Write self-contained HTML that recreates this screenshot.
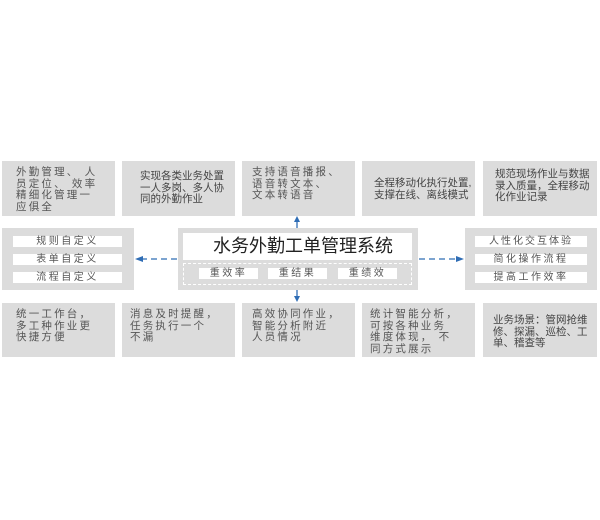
<html><head><style>
body{margin:0;background:#fff;width:600px;height:520px;position:relative;font-family:"Liberation Sans","Noto Sans CJK SC",sans-serif;overflow:hidden}
.b{position:absolute;background:#dcdcdc;color:#555;font-size:10.5px;line-height:11.5px;box-sizing:border-box;padding:6px 0 0 14px;white-space:nowrap}
.s{letter-spacing:2.2px}
.p{position:absolute;background:#fff;color:#555;font-size:10px;text-align:center;line-height:11px;letter-spacing:2.5px;white-space:nowrap}
</style></head><body>
<div class="b s" style="left:2px;top:161px;width:113px;height:55px">外勤管理、 人<br>员定位、 效率<br>精细化管理一<br>应俱全</div>
<div class="b" style="left:122px;top:161px;width:113px;height:55px;padding-left:18px;padding-top:10px;color:#444">实现各类业务处置<br>一人多岗、多人协<br>同的外勤作业</div>
<div class="b s" style="left:242px;top:161px;width:113px;height:55px;padding-left:10px">支持语音播报、<br>语音转文本、<br>文本转语音</div>
<div class="b" style="left:362px;top:161px;width:113px;height:55px;padding:17px 0 0 12px;color:#444">全程移动化执行处置,<br>支撑在线、离线模式</div>
<div class="b" style="left:483px;top:161px;width:114px;height:55px;padding:8px 0 0 12px;color:#444">规范现场作业与数据<br>录入质量，全程移动<br>化作业记录</div>

<div class="b" style="left:2px;top:228px;width:132px;height:62px;padding:0"></div>
<div class="p" style="left:13px;top:236px;width:109px;height:11px">规则自定义</div>
<div class="p" style="left:13px;top:254px;width:109px;height:11px">表单自定义</div>
<div class="p" style="left:13px;top:272px;width:109px;height:11px">流程自定义</div>

<div class="b" style="left:178px;top:228px;width:240px;height:62px;padding:0"></div>
<div style="position:absolute;left:183px;top:233px;width:229px;height:27px;background:#fff;font-size:18px;line-height:27px;padding-left:30px;box-sizing:border-box;color:#222;white-space:nowrap">水务外勤工单管理系统</div>
<div style="position:absolute;left:183px;top:263px;width:229px;height:22px;border:1px dashed #fff;box-sizing:border-box"></div>
<div class="p" style="left:199px;top:268px;width:59px;height:11px">重效率</div>
<div class="p" style="left:268px;top:268px;width:59px;height:11px">重结果</div>
<div class="p" style="left:338px;top:268px;width:59px;height:11px">重绩效</div>

<div class="b" style="left:465px;top:228px;width:132px;height:62px;padding:0"></div>
<div class="p" style="left:475px;top:236px;width:112px;height:11px;letter-spacing:2px">人性化交互体验</div>
<div class="p" style="left:475px;top:254px;width:112px;height:11px">简化操作流程</div>
<div class="p" style="left:475px;top:272px;width:112px;height:11px">提高工作效率</div>

<div class="b s" style="left:2px;top:303px;width:113px;height:54px">统一工作台，<br>多工种作业更<br>快捷方便</div>
<div class="b s" style="left:122px;top:303px;width:113px;height:54px;padding-left:8px">消息及时提醒，<br>任务执行一个<br>不漏</div>
<div class="b s" style="left:242px;top:303px;width:113px;height:54px;padding-left:10px">高效协同作业，<br>智能分析附近<br>人员情况</div>
<div class="b s" style="left:362px;top:303px;width:113px;height:54px;padding-left:8px">统计智能分析，<br>可按各种业务<br>维度体现， 不<br>同方式展示</div>
<div class="b" style="left:483px;top:303px;width:114px;height:54px;padding:12px 0 0 10px;color:#444">业务场景：管网抢维<br>修、探漏、巡检、工<br>单、稽查等</div>

<svg width="600" height="520" style="position:absolute;left:0;top:0">
<g stroke="#2f6db5" stroke-width="1.3" stroke-dasharray="6,4" fill="none">
<line x1="177" y1="259" x2="142" y2="259"/>
<line x1="419" y1="259" x2="456" y2="259"/>
<line x1="297" y1="228" x2="297" y2="222"/>
<line x1="297" y1="290" x2="297" y2="296"/>
</g>
<g fill="#2f6db5">
<polygon points="135,259 143,256 143,262"/>
<polygon points="464,259 456,256 456,262"/>
<polygon points="297,216 294,222 300,222"/>
<polygon points="297,302 294,296 300,296"/>
</g>
</svg>
</body></html>
